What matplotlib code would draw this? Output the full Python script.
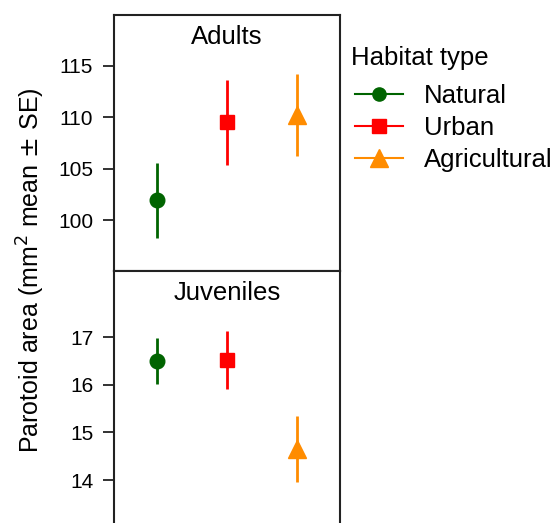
import matplotlib
matplotlib.use("Agg")
import matplotlib.pyplot as plt
from matplotlib.lines import Line2D

plt.rcParams['font.family'] = ['Liberation Sans', 'DejaVu Sans']

habitats = ['Natural', 'Urban', 'Agricultural']
colors = ['#006400', '#ff0000', '#ff8c00']
markers = ['o', 's', '^']
msizes = [10.5, 10.5, 13.5]

adult_mean = [101.95, 109.5, 110.2]
adult_se = [3.65, 4.1, 4.0]
juv_mean = [16.5, 16.52, 14.65]
juv_se = [0.49, 0.6, 0.69]

fig = plt.figure(figsize=(5.54, 5.23), dpi=100)
ax1 = fig.add_axes([114/554, 1-271/523, 226/554, 256/523])
ax2 = fig.add_axes([114/554, 0, 226/554, 1-271/523])

def panel(ax, means, ses, title, ylim, ticks):
    for i in range(3):
        ax.errorbar(i + 1, means[i], yerr=ses[i], fmt=markers[i], color=colors[i],
                    ms=msizes[i], elinewidth=2, capsize=0)
    ax.set_xlim(0.39, 3.62)
    ax.set_ylim(ylim)
    ax.set_yticks(ticks)
    ax.set_yticklabels([str(t) for t in ticks])
    ax.set_xticks([])
    ax.tick_params(axis='y', labelsize=15, length=8, width=1.3, color='#222222', pad=7)
    for s in ax.spines.values():
        s.set_linewidth(1.5)
        s.set_color('#222222')
    ax.annotate(title, xy=(0.5, 1), xycoords='axes fraction', xytext=(0, -15.5),
                textcoords='offset points', ha='center', va='center', fontsize=18.5)

panel(ax1, adult_mean, adult_se, 'Adults', (95.04, 119.96), [100, 105, 110, 115])
panel(ax2, juv_mean, juv_se, 'Juveniles', (13.10, 18.39), [14, 15, 16, 17])
ax2.spines['bottom'].set_visible(False)

fig.text(31/554, 1-270/523, r'Parotoid area (mm$^2$ mean $\pm$ SE)', rotation=90,
         ha='center', va='center', fontsize=18)

fig.text(351/554, 1-58/523, 'Habitat type', ha='left', va='center', fontsize=18.5)

handles = [Line2D([], [], color=colors[i], marker=markers[i], ms=msizes[i] - 1, lw=1.5)
           for i in range(3)]
leg = fig.legend(handles, habitats, loc='upper left',
                 bbox_to_anchor=(355/554, 1-84/523), frameon=False, fontsize=18.5,
                 handlelength=1.87, handletextpad=0.82,
                 labelspacing=0.31, borderaxespad=0, borderpad=0)

fig.savefig('out.png', dpi=100)
